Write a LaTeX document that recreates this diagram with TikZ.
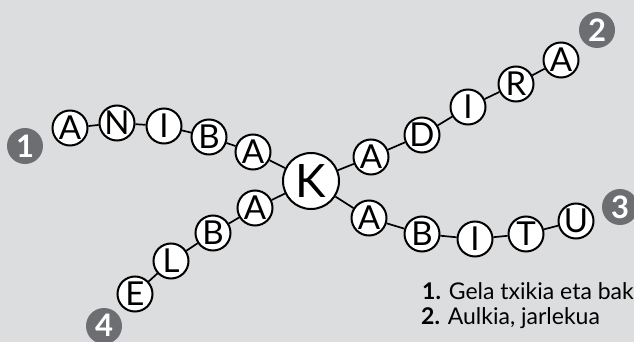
\documentclass[tikz,border=0pt]{standalone}
\usepackage{fontspec}
\setmainfont{Lato}
\definecolor{bg}{HTML}{DCDDDF}
\definecolor{lab}{HTML}{6D6E71}
\begin{document}
\begin{tikzpicture}[x=1pt,y=-1pt,
  letter/.style={circle,draw=black,fill=white,line width=2pt,minimum size=35pt,inner sep=0pt,font=\fontsize{33}{33}\selectfont},
  bigletter/.style={letter,minimum size=56pt,font=\fontsize{46}{46}\selectfont},
  numlab/.style={circle,fill=lab,minimum size=36pt,inner sep=0pt,text=white,font=\bfseries\fontsize{31}{31}\selectfont},
  numtext/.style={inner sep=0pt,text=white,font=\bfseries\fontsize{31}{31}\selectfont},
  link/.style={line width=1.7pt,black},
  listtext/.style={anchor=base west,inner sep=0pt,font=\fontsize{23}{23}\selectfont}]
\fill[bg] (0,0) rectangle (634,342);
\useasboundingbox (0,0) rectangle (634,342);
\clip (0,0) rectangle (634,342);
\node[bigletter] (k) at (311,181) {K};
% branch 1
\node[letter] (a1) at (70,128) {A};
\node[letter] (a2) at (117,123) {N};
\node[letter] (a3) at (164,126) {I};
\node[letter] (a4) at (209,137) {B};
\node[letter] (a5) at (253,152) {A};
% branch 2
\node[letter] (b1) at (371,157) {A};
\node[letter] (b2) at (422,135) {D};
\node[letter] (b3) at (468,107) {I};
\node[letter] (b4) at (516,84) {R};
\node[letter] (b5) at (561,60) {A};
% branch 3
\node[letter] (c1) at (369,218) {A};
\node[letter] (c2) at (422,234) {B};
\node[letter] (c3) at (475,239) {I};
\node[letter] (c4) at (526,234) {T};
\node[letter] (c5) at (576,221) {U};
% branch 4
\node[letter] (d1) at (255,208) {A};
\node[letter] (d2) at (213,233) {B};
\node[letter] (d3) at (171,261) {L};
\node[letter] (d4) at (135,294) {E};
% number labels
\node[numlab] (n1) at (25,146) {1};
\node[numlab] (n2) at (597,30) {2};
\node[numlab] (n3) at (620,207) {3};
\node[numlab] (n4) at (104,326) {};
\node[numtext] (n4t) at (104,325) {4};
% links
\draw[link] (a1) -- (a2) -- (a3) -- (a4) -- (a5) -- (k);
\draw[link] (k) -- (b1) -- (b2) -- (b3) -- (b4) -- (b5);
\draw[link] (k) -- (c1) -- (c2) -- (c3) -- (c4) -- (c5);
\draw[link] (k) -- (d1) -- (d2) -- (d3) -- (d4);
% text
\node[listtext] (t1) at (422,299) {\textbf{1.} Gela txikia eta bak};
\node[listtext] (t2) at (421,324) {\textbf{2.} Aulkia, jarlekua};
\end{tikzpicture}
\end{document}
